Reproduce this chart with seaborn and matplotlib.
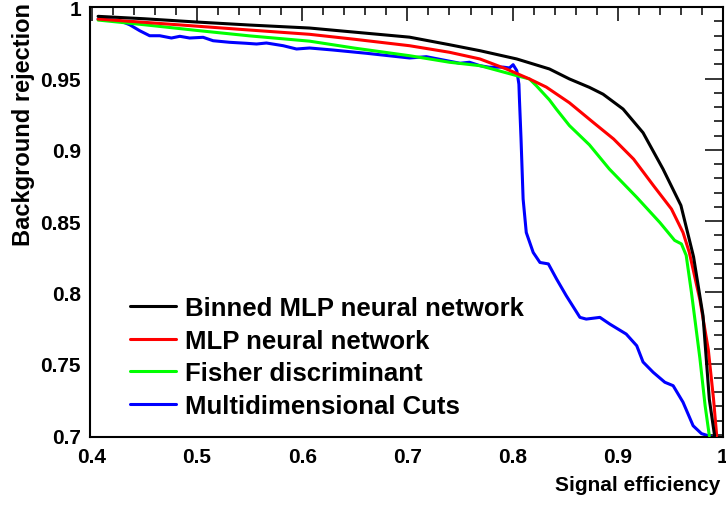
import matplotlib
matplotlib.use("Agg")
import matplotlib.pyplot as plt
from matplotlib.ticker import MultipleLocator, FuncFormatter
import pandas as pd
import seaborn as sns

# ROC curves: signal efficiency vs background rejection
binned_mlp_x = [0.406, 0.45, 0.50, 0.55, 0.607, 0.65, 0.702, 0.74, 0.769, 0.804, 0.835,
                0.854, 0.873, 0.886, 0.905, 0.924, 0.943, 0.960, 0.972, 0.981, 0.987, 0.992]
binned_mlp_y = [0.9936, 0.9919, 0.9896, 0.9875, 0.9854, 0.9825, 0.979, 0.9737, 0.9695, 0.9637, 0.9567,
                0.9497, 0.9438, 0.939, 0.9286, 0.912, 0.8865, 0.861, 0.825, 0.7837, 0.725, 0.6995]

mlp_x = [0.406, 0.45, 0.50, 0.55, 0.607, 0.65, 0.702, 0.740, 0.769, 0.794, 0.816, 0.832,
         0.854, 0.877, 0.896, 0.915, 0.934, 0.951, 0.962, 0.968, 0.978, 0.986, 0.991, 0.994]
mlp_y = [0.9917, 0.9894, 0.9867, 0.984, 0.981, 0.9775, 0.973, 0.9684, 0.9637, 0.9567, 0.9497, 0.944,
         0.933, 0.919, 0.9076, 0.8935, 0.8748, 0.8585, 0.842, 0.828, 0.795, 0.760, 0.7252, 0.6995]

fisher_x = [0.406, 0.45, 0.50, 0.55, 0.607, 0.65, 0.702, 0.740, 0.769, 0.804, 0.816, 0.8225, 0.835,
            0.8415, 0.854, 0.873, 0.892, 0.918, 0.940, 0.954, 0.9605, 0.965, 0.970, 0.978, 0.983, 0.987]
fisher_y = [0.991, 0.9877, 0.9837, 0.9799, 0.9762, 0.9713, 0.966, 0.9614, 0.959, 0.952, 0.9497, 0.945, 0.935,
            0.9286, 0.917, 0.9035, 0.8865, 0.8667, 0.849, 0.8365, 0.834, 0.826, 0.800, 0.754, 0.7206, 0.6995]

cuts_x = [0.406, 0.4266, 0.436, 0.4456, 0.455, 0.4646, 0.4757, 0.4837, 0.493, 0.5058, 0.5153, 0.531,
          0.547, 0.5566, 0.566, 0.582, 0.5946, 0.607, 0.629, 0.661, 0.702, 0.718, 0.734, 0.750,
          0.759, 0.769, 0.778, 0.791, 0.797, 0.8005, 0.804, 0.806, 0.8065, 0.808, 0.810, 0.813,
          0.8196, 0.826, 0.834, 0.8418, 0.851, 0.864, 0.870, 0.883, 0.8924, 0.908, 0.918, 0.924,
          0.9336, 0.9447, 0.9526, 0.962, 0.9716, 0.9795, 0.989]
cuts_y = [0.9917, 0.9905, 0.9877, 0.9835, 0.980, 0.980, 0.9784, 0.9796, 0.9784, 0.9789, 0.9765, 0.9754,
          0.9747, 0.9742, 0.9749, 0.973, 0.9707, 0.9714, 0.970, 0.9677, 0.9644, 0.9653, 0.963, 0.9607,
          0.9614, 0.959, 0.9579, 0.958, 0.9574, 0.9597, 0.9555, 0.946, 0.9356, 0.908, 0.8655, 0.842,
          0.828, 0.821, 0.820, 0.8094, 0.7977, 0.7825, 0.7813, 0.7825, 0.7778, 0.7708, 0.7626, 0.7512,
          0.744, 0.737, 0.7346, 0.723, 0.7065, 0.701, 0.6988]

labels = ["Binned MLP neural network", "MLP neural network",
          "Fisher discriminant", "Multidimensional Cuts"]
colors = ["#000000", "#ff0000", "#00ff00", "#0000ff"]
series = [(binned_mlp_x, binned_mlp_y), (mlp_x, mlp_y),
          (fisher_x, fisher_y), (cuts_x, cuts_y)]

x_ticks = [0.4, 0.5, 0.6, 0.7, 0.8, 0.9, 1.0]
y_ticks = [0.7, 0.75, 0.8, 0.85, 0.9, 0.95, 1.0]

sns.set_theme(style="white")
plt.rcParams["font.family"] = ["Liberation Sans", "DejaVu Sans"]
plt.rcParams["font.weight"] = "bold"
plt.rcParams["text.color"] = "black"
plt.rcParams["axes.labelcolor"] = "black"
plt.rcParams["xtick.color"] = "black"
plt.rcParams["ytick.color"] = "black"

W, H = 726, 506
fig = plt.figure(figsize=(W / 100, H / 100), dpi=100)
fig.patch.set_facecolor("white")
ax = fig.add_axes([90 / W, 1 - 438.3 / H, 633 / W, 430.8 / H])
ax.set_facecolor("white")

frames = []
for lab, (xs, ys) in zip(labels, series):
    frames.append(pd.DataFrame({"eff": xs, "rej": ys, "method": lab}))
df = pd.concat(frames, ignore_index=True)

# draw the last method first so the binned MLP ends up on top
for z, (lab, col) in enumerate(reversed(list(zip(labels, colors)))):
    sub = df[df["method"] == lab]
    sns.lineplot(data=sub, x="eff", y="rej", ax=ax, color=col, lw=2.2,
                 sort=False, estimator=None, label=lab, zorder=2 + z)

h, l = ax.get_legend_handles_labels()
lookup = dict(zip(l, h))
leg = ax.legend([lookup[k] for k in labels], labels, loc="upper left",
                bbox_to_anchor=(130 / W, 1 - 297 / H), bbox_transform=fig.transFigure,
                frameon=False, prop={"size": 18.5, "weight": "bold"},
                handlelength=1.8, handletextpad=0.35, labelspacing=0.34,
                borderpad=0, borderaxespad=0)
for t in leg.get_texts():
    t.set_color("black")

ax.set_xlim(0.3983, 1.0)
ax.set_ylim(0.6984, 1.0005)

ax.xaxis.set_minor_locator(MultipleLocator(0.02))
ax.yaxis.set_minor_locator(MultipleLocator(0.01))
ax.set_xticks(x_ticks)
ax.set_yticks(y_ticks)
fmt = FuncFormatter(lambda v, p: f"{v:g}")
ax.xaxis.set_major_formatter(fmt)
ax.yaxis.set_major_formatter(fmt)

ax.tick_params(axis="both", which="both", direction="in", top=True, right=True,
               colors="black", labelcolor="black", width=1.1)
ax.tick_params(axis="x", which="major", length=10, pad=7, labelsize=15)
ax.tick_params(axis="x", which="minor", length=5.4)
ax.tick_params(axis="y", which="major", length=13, pad=6.5, labelsize=15)
ax.tick_params(axis="y", which="minor", length=6.5)
for t in ax.get_xticklabels() + ax.get_yticklabels():
    t.set_fontweight("bold")

for sp in ax.spines.values():
    sp.set_visible(True)
    sp.set_color("black")
    sp.set_linewidth(1.5)

ax.set_xlabel("Signal efficiency", fontsize=15, fontweight="bold", color="black", loc="right")
ax.xaxis.label.set_va("center")
ax.xaxis.set_label_coords((720 - 90) / 633, (438.3 - 486) / 430.8)
ax.set_ylabel("Background rejection", fontsize=17, fontweight="bold", color="black", loc="top")
ax.yaxis.label.set_ha("right")
ax.yaxis.label.set_va("center")
ax.yaxis.set_label_coords((24 - 90) / 633, (438.3 - 3) / 430.8)

fig.savefig("out.png", dpi=100, facecolor="white")
